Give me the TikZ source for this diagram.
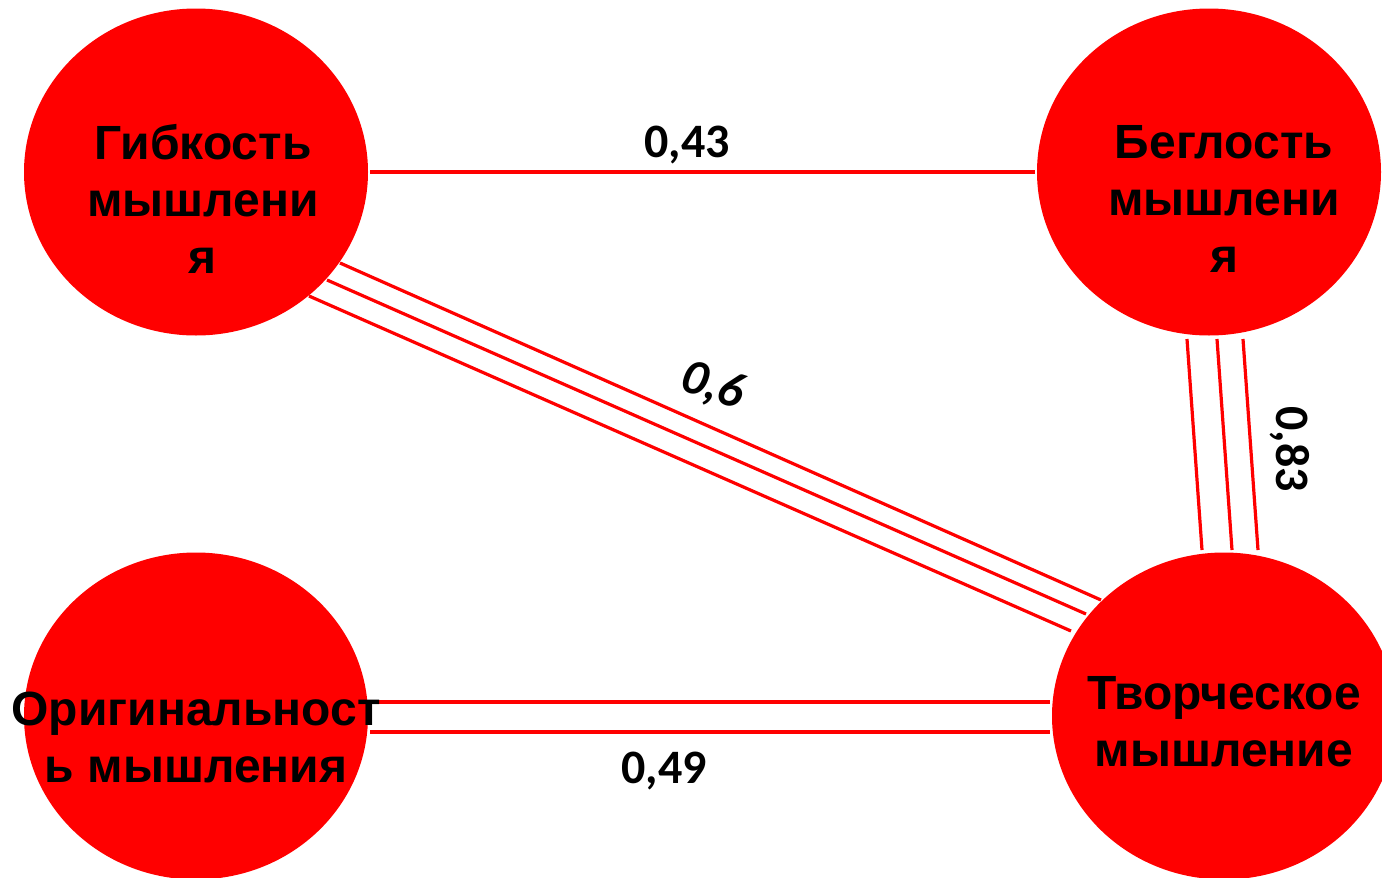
\documentclass[tikz,border=0pt]{standalone}
\usepackage{fontspec}
\setmainfont{Liberation Sans}
\newfontfamily\numfont{Carlito}
\usetikzlibrary{shapes.geometric}
\begin{document}
\begin{tikzpicture}[x=1pt,y=-1pt,
  blob/.style={ellipse, fill=red, draw=none, inner sep=0pt, minimum width=344pt, minimum height=327pt},
  ctext/.style={align=center, font=\fontsize{48}{57}\selectfont\bfseries, text=black, inner sep=0pt},
  link/.style={draw=red, line width=3.2pt},
  num/.style={font=\numfont\fontsize{48}{50}\selectfont\bfseries, text=black, inner sep=0pt}]
\useasboundingbox (0,0) rectangle (1382,878);
% circles
\node[blob] (g) at (196,172) {};
\node[blob] (b) at (1209,172) {};
\node[blob] (o) at (196,716) {};
\node[blob] (t) at (1224,716) {};
% labels
\node[ctext] (gt) at (203,199) {Гибкость\\мышлени\\я};
\node[ctext] (bt) at (1224,199) {Беглость\\мышлени\\я};
\node[ctext] (tt) at (1224,722) {Творческое\\мышление};
% connector end points
\coordinate (gb1) at (370,172); \coordinate (bg1) at (1035,172);
\coordinate (gt1) at (340,263); \coordinate (tg1) at (1101,600);
\coordinate (gt2) at (327,280); \coordinate (tg2) at (1086,614);
\coordinate (gt3) at (309,296); \coordinate (tg3) at (1071,631);
\coordinate (bt1) at (1187,339); \coordinate (tb1) at (1202,550);
\coordinate (bt2) at (1217,339); \coordinate (tb2) at (1232,550);
\coordinate (bt3) at (1243,339); \coordinate (tb3) at (1258,550);
\coordinate (ot1) at (370,702); \coordinate (to1) at (1050,702);
\coordinate (ot2) at (370,732); \coordinate (to2) at (1050,732);
% connectors
\draw[link] (gb1) -- (bg1);
\draw[link] (gt1) -- (tg1);
\draw[link] (gt2) -- (tg2);
\draw[link] (gt3) -- (tg3);
\draw[link] (bt1) -- (tb1);
\draw[link] (bt2) -- (tb2);
\draw[link] (bt3) -- (tb3);
\draw[link] (ot1) -- (to1);
\draw[link] (ot2) -- (to2);
\node[ctext] (ot) at (196,737) {Оригинальност\\ь мышления};
% numbers
\node[num] (n43) at (687,145) {0,43};
\node[num] (n49) at (664,771) {0,49};
\node[num, font=\numfont\fontsize{50}{52}\selectfont\bfseries\itshape, rotate=-18] (n6) at (713,386) {0,6};
\node[num, rotate=-90] (n83) at (1290,449) {0,83};
\end{tikzpicture}
\end{document}
